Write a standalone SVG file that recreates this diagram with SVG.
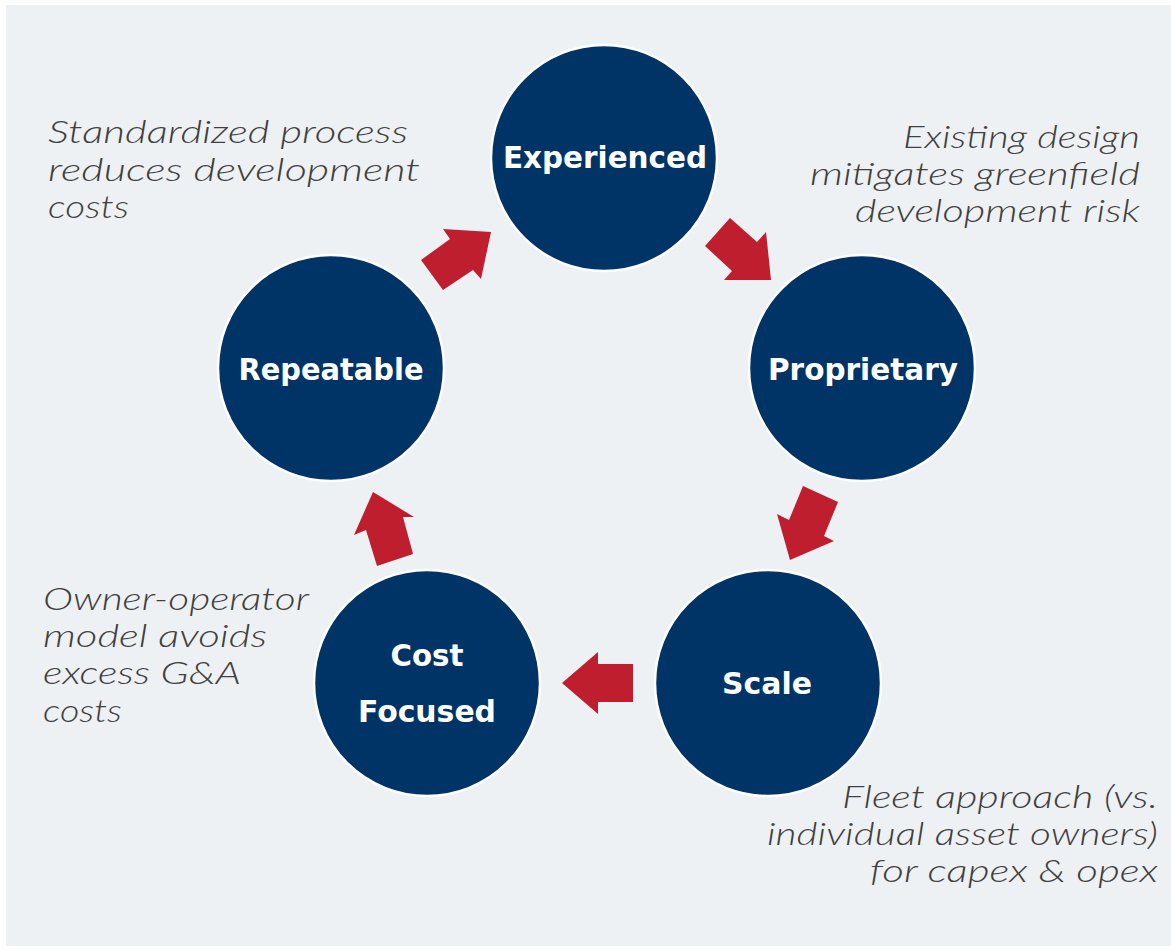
<svg xmlns="http://www.w3.org/2000/svg" width="1171" height="950" viewBox="0 0 1171 950">
<style>
.node circle{fill:#003466;stroke:#ffffff;stroke-width:2.5}
.node text{fill:#ffffff;font-family:"DejaVu Sans","Liberation Sans",sans-serif;font-weight:bold;font-size:30px;text-anchor:middle}
.note{fill:#404040;font-family:Lato,"Open Sans",sans-serif;font-style:italic;font-weight:300;font-size:31px}
.arrow{fill:#be1e2d}
</style>
<rect x="0" y="0" width="1171" height="950" fill="#ffffff"/>
<rect x="6" y="5" width="1165" height="941" fill="#edf1f4"/>

<g id="connectors">
<polygon class="arrow" points="421,260 450,239 443,229 491,232 481,279 473,270 443,290"/>
<polygon class="arrow" points="705,246 730,218 757,242 766,232 771,280 724,280 732,271"/>
<polygon class="arrow" points="803,486 838,502 824,536 834,541 790,560 777,514 789,520"/>
<polygon class="arrow" points="633,664 598,664 598,652 562,683 598,714 598,702 633,702"/>
<polygon class="arrow" points="377,566 413,554 403,517 414,517 373,492 354,535 366,530"/>
</g>

<g id="experienced" class="node">
<circle cx="604" cy="158" r="113"/>
<text x="605" y="168" textLength="204" lengthAdjust="spacingAndGlyphs">Experienced</text>
</g>
<g id="proprietary" class="node">
<circle cx="862" cy="368" r="113"/>
<text x="863" y="380" textLength="190" lengthAdjust="spacingAndGlyphs">Proprietary</text>
</g>
<g id="scale" class="node">
<circle cx="768" cy="683" r="113"/>
<text x="767" y="694" textLength="90" lengthAdjust="spacingAndGlyphs">Scale</text>
</g>
<g id="cost-focused" class="node">
<circle cx="427" cy="683" r="113"/>
<text x="427" y="666" textLength="73" lengthAdjust="spacingAndGlyphs">Cost</text>
<text x="427" y="722" textLength="138" lengthAdjust="spacingAndGlyphs">Focused</text>
</g>
<g id="repeatable" class="node">
<circle cx="331" cy="368" r="113"/>
<text x="331" y="380" textLength="185" lengthAdjust="spacingAndGlyphs">Repeatable</text>
</g>

<g id="note-standardized">
<text class="note" x="48" y="143" textLength="360" lengthAdjust="spacingAndGlyphs">Standardized process</text>
<text class="note" x="48" y="181" textLength="372" lengthAdjust="spacingAndGlyphs">reduces development</text>
<text class="note" x="48" y="218" textLength="81" lengthAdjust="spacingAndGlyphs">costs</text>
</g>
<g id="note-existing">
<text class="note" x="903" y="148" textLength="237" lengthAdjust="spacingAndGlyphs">Existing design</text>
<text class="note" x="810" y="185" textLength="330" lengthAdjust="spacingAndGlyphs">mitigates greenfield</text>
<text class="note" x="855" y="222" textLength="285" lengthAdjust="spacingAndGlyphs">development risk</text>
</g>
<g id="note-owner">
<text class="note" x="43" y="610" textLength="266" lengthAdjust="spacingAndGlyphs">Owner-operator</text>
<text class="note" x="43" y="647" textLength="224" lengthAdjust="spacingAndGlyphs">model avoids</text>
<text class="note" x="43" y="684" textLength="198" lengthAdjust="spacingAndGlyphs">excess G&amp;A</text>
<text class="note" x="43" y="722" textLength="79" lengthAdjust="spacingAndGlyphs">costs</text>
</g>
<g id="note-fleet">
<text class="note" x="842" y="808" textLength="316" lengthAdjust="spacingAndGlyphs">Fleet approach (vs.</text>
<text class="note" x="767" y="845" textLength="391" lengthAdjust="spacingAndGlyphs">individual asset owners)</text>
<text class="note" x="870" y="882" textLength="288" lengthAdjust="spacingAndGlyphs">for capex &amp; opex</text>
</g>
</svg>
